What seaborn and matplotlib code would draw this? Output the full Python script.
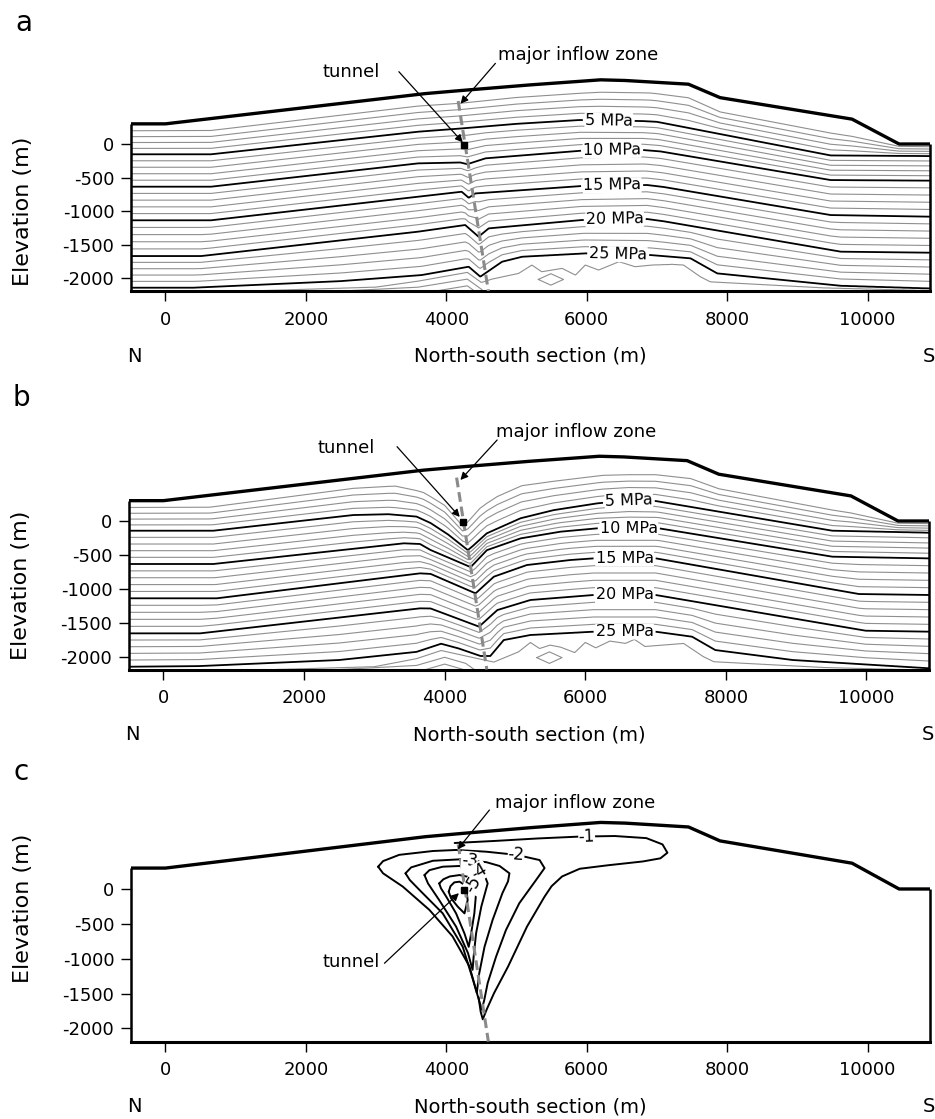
import numpy as np
import matplotlib
matplotlib.use("Agg")
import matplotlib.pyplot as plt
import seaborn as sns

# ---------------------------------------------------------------- data
X_TICKS = [0, 2000, 4000, 6000, 8000, 10000]
Y_TICKS = [0, -500, -1000, -1500, -2000]
X_RANGE = [-490, 10890]
Z_RANGE = [-2190, 1000]

# ground surface (model top)
TOPO_X = [-490, 0, 3700, 4200, 5200, 6200, 6550, 7450, 7900, 9780, 10450, 10890]
TOPO_Z = [300, 300, 750, 795, 880, 955, 945, 890, 690, 370, 0, 0]

INFLOW_X = [4170, 4600]
INFLOW_Z = [640, -2190]
TUNNEL_X = [4255]
TUNNEL_Z = [-20]
DIAMOND_X = [5310, 5490, 5670, 5490, 5310]
DIAMOND_Z = [-2015, -1930, -2015, -2100, -2015]

# ---- panel a: pressure contours (MPa) before tunnel, elevation (m) along x (m)
A_P0_X = [-490, 650, 3600, 4200, 5000, 6200, 6900, 7450, 7900, 9780, 10450, 10890]
A_P0_Z = [285, 290, 660, 700, 790, 875, 865, 800, 560, 185, 0, -5]
A_P5_X = [-490, 650, 3600, 4220, 5000, 5900, 6800, 7000, 9475, 10890]
A_P5_Z = [-153, -153, 183, 232, 300, 357, 341, 330, -170, -179]
A_P10_X = [-490, 650, 3600, 4200, 4300, 4560, 5930, 6800, 7050, 9475, 10890]
A_P10_Z = [-635, -635, -288, -275, -300, -213, -99, -89, -110, -536, -545]
A_P15_X = [-490, 650, 3600, 4220, 4320, 4415, 5930, 6860, 7100, 9475, 10890]
A_P15_Z = [-1135, -1135, -784, -710, -800, -735, -625, -610, -640, -1057, -1081]
A_P20_X = [-490, 510, 3600, 4270, 4460, 4605, 5930, 6860, 7100, 9620, 10890]
A_P20_Z = [-1667, -1667, -1304, -1205, -1379, -1255, -1131, -1116, -1150, -1602, -1617]
A_P25_X = [-490, 400, 2500, 3650, 4320, 4485, 4795, 5080, 5980, 6910, 7480, 7860, 9620, 10890]
A_P25_Z = [-2138, -2138, -2040, -1950, -1826, -1974, -1751, -1677, -1627, -1652, -1701, -1925, -2110, -2150]
A_P26_X = [-490, 3000, 3600, 4300, 4500, 4650, 5030, 5220, 5360, 5650, 5840, 5980, 6170,
           6460, 6690, 6930, 7220, 7380, 7620, 7760, 9380, 10890]
A_P26_Z = [-2240, -2130, -2040, -1910, -2060, -2010, -1925, -1800, -1900, -1850, -1950, -1800, -1875,
           -1750, -1825, -1800, -1790, -1800, -1975, -2050, -2140, -2180]
A_P27_X = [-490, 3600, 4300, 4500, 4700, 10890]
A_P27_Z = [-2340, -2130, -2010, -2160, -2400, -2400]

# ---- panel b: pressure contours (MPa) with tunnel drainage
B_P0_X = [-490, 650, 2700, 3300, 3700, 4000, 4255, 4500, 4750, 5100, 6260, 7000, 7500, 7900, 9780, 10450, 10890]
B_P0_Z = [285, 290, 580, 620, 520, 330, 0, 300, 480, 640, 775, 780, 730, 560, 185, 0, -5]
B_P5_X = [-490, 710, 2700, 3200, 3600, 3800, 4050, 4330, 4400, 4600, 5080, 5550, 6170, 6620, 7000, 9515, 10890]
B_P5_Z = [-143, -143, 88, 100, 65, -30, -200, -430, -370, -182, 40, 160, 260, 305, 295, -143, -172]
B_P10_X = [-490, 710, 3420, 3650, 3800, 4370, 4600, 5080, 5650, 6170, 7050, 9515, 10890]
B_P10_Z = [-634, -634, -329, -339, -428, -680, -430, -256, -157, -108, -108, -526, -551]
B_P15_X = [-490, 760, 3650, 3800, 4440, 4700, 5170, 5790, 6120, 7000, 9895, 10890]
B_P15_Z = [-1140, -1140, -772, -780, -1067, -821, -649, -575, -551, -550, -1077, -1091]
B_P20_X = [-490, 520, 3650, 3800, 4490, 4750, 5220, 6120, 7000, 9990, 10890]
B_P20_Z = [-1657, -1657, -1288, -1290, -1558, -1313, -1165, -1091, -1091, -1618, -1632]
B_P25_X = [-490, 500, 2500, 3600, 3950, 4200, 4510, 4650, 4840, 5220, 6120, 7000, 7520, 7850, 8950, 10890]
B_P25_Z = [-2149, -2140, -2050, -1930, -1810, -1880, -1991, -1991, -1755, -1681, -1632, -1632, -1706, -1903, -2050, -2173]
B_P26_X = [-490, 3000, 3600, 3950, 4300, 4700, 5050, 5220, 5350, 5500, 5650, 5850, 6000, 6150,
           6350, 6573, 6700, 6850, 7400, 7680, 7830, 9400, 10890]
B_P26_Z = [-2250, -2150, -2030, -1910, -1990, -2080, -1930, -1790, -1880, -1830, -1860, -1940, -1790, -1870,
           -1770, -1804, -1745, -1850, -1805, -2000, -2075, -2160, -2200]
B_P27_X = [-490, 3600, 4000, 4300, 4700, 10890]
B_P27_Z = [-2350, -2130, -2010, -2100, -2400, -2400]

BOLD_LEVELS = [5, 10, 15, 20, 25]
THIN_LEVELS = [1, 2, 3, 4, 6, 7, 8, 9, 11, 12, 13, 14, 16, 17, 18, 19,
               21, 22, 23, 24, 26, 27, 28, 29]
M_PER_MPA = 100.0   # spacing used below the deepest read contour

A_LABEL_X = [6315, 6362, 6362, 6400, 6450]
A_LABEL_Z = [367, -100, -610, -1121, -1603]
B_LABEL_X = [6620, 6620, 6560, 6560, 6560]
B_LABEL_Z = [310, -93, -550, -1077, -1608]

# ---- panel c: pressure change contours (MPa)
C_M1_X = [4120, 4700, 5300, 5900, 6400, 6850, 7080, 7150, 7050, 6800, 6300, 5900, 5650, 5500,
          5400, 5150, 4880, 4680, 4580, 4520, 4490, 4460]
C_M1_Z = [660, 690, 725, 752, 760, 730, 640, 520, 440, 395, 340, 290, 180, 40,
          -110, -540, -1114, -1496, -1720, -1870, -1760, -1550]
C_M2_X = [3030, 3100, 3330, 3810, 4140, 4570, 5000, 5330, 5400, 5280, 5040, 4850, 4710, 4590,
          4540, 4505, 4450, 4330, 4090, 3760, 3380, 3100, 3030]
C_M2_Z = [320, 400, 490, 545, 560, 535, 490, 415, 300, 130, -205, -590, -970, -1350,
          -1600, -1730, -1540, -1110, -680, -300, 35, 225, 320]
C_M3_X = [3420, 3500, 3810, 4190, 4570, 4760, 4900, 4880, 4800, 4660, 4545, 4470, 4435, 4380,
          4235, 3950, 3620, 3480, 3420]
C_M3_Z = [225, 310, 405, 425, 385, 330, 225, 110, -60, -445, -830, -1210, -1490, -1300,
          -830, -350, -15, 130, 225]
C_M4_X = [3690, 3760, 3950, 4190, 4450, 4545, 4590, 4500, 4425, 4390, 4375, 4310, 4140, 3900, 3740, 3690]
C_M4_Z = [200, 270, 320, 330, 280, 200, 80, -250, -635, -970, -1160, -920, -540, -160, 80, 200]
C_M5_X = [3900, 3960, 4050, 4190, 4330, 4380, 4425, 4400, 4355, 4320, 4260, 4140, 4000, 3925, 3900]
C_M5_Z = [80, 140, 180, 200, 170, 130, -60, -350, -635, -830, -640, -350, -110, 10, 80]
C_M6_X = [4035, 4060, 4115, 4190, 4260, 4285, 4305, 4260, 4165, 4070, 4035]
C_M6_Z = [-40, 40, 95, 105, 60, 10, -160, -350, -255, -135, -40]
C_LABELS = ["-1", "-2", "-3", "-4", "-5"]
C_LABEL_X = [6000, 4995, 4330, 4470, 4385]
C_LABEL_Z = [752, 490, 410, 255, 60]
C_LABEL_ROT = [2, -4, -5, 30, 60]

# ---------------------------------------------------------------- style
sns.set_theme(style="white")
plt.rcParams["font.family"] = ["DejaVu Sans"]
plt.rcParams["axes.unicode_minus"] = False
for key in ["text.color", "axes.labelcolor", "xtick.color", "ytick.color"]:
    plt.rcParams[key] = "black"

THIN_COLOR = "#8f8f8f"
DASH_COLOR = "#8a8a8a"

fig = plt.figure(figsize=(9.35, 11.19), dpi=100)
W, H = 935.0, 1119.0
ax_a = fig.add_axes([131 / W, 1 - 291.2 / H, 799 / W, 214.4 / H])
ax_b = fig.add_axes([129 / W, 1 - 669.5 / H, 800 / W, 216.3 / H])
ax_c = fig.add_axes([131 / W, 1 - 1041.6 / H, 799 / W, 222.3 / H])

XG = np.linspace(X_RANGE[0], X_RANGE[1], 1500)
ZG = np.linspace(Z_RANGE[0], Z_RANGE[1], 800)


def pressure_field(levels):
    plev = np.array([p for p, _, _ in levels], float)
    field = np.empty((ZG.size, XG.size))
    for j, x in enumerate(XG):
        zl = np.array([np.interp(x, lx, lz) for _, lx, lz in levels], float)
        for k in range(1, zl.size):
            zl[k] = min(zl[k], zl[k - 1] - 1.0)
        zz = np.concatenate([[zl[0] + 3000.0], zl, [zl[-1] - 3000.0]])
        pp = np.concatenate([[plev[0] - 3000.0 / M_PER_MPA], plev, [plev[-1] + 3000.0 / M_PER_MPA]])
        field[:, j] = np.interp(ZG, zz[::-1], pp[::-1])
    topo = np.interp(XG, TOPO_X, TOPO_Z)
    field[ZG[:, None] > topo[None, :] + 2] = np.nan
    return np.ma.masked_invalid(field)


def frame(ax, elev_z):
    ax.set_xlim(X_RANGE)
    ax.set_ylim(Z_RANGE)
    for s in ["top", "right", "left"]:
        ax.spines[s].set_visible(False)
    ax.spines["bottom"].set_color("black")
    ax.spines["bottom"].set_linewidth(2.2)
    ax.set_xticks(X_TICKS)
    ax.set_xticklabels([str(v) for v in X_TICKS])
    ax.set_yticks(Y_TICKS)
    ax.set_yticklabels([str(v) for v in Y_TICKS])
    ax.tick_params(axis="both", which="major", length=7, width=1.0, color="black",
                   labelcolor="black", labelsize=13, direction="out", left=True, bottom=True)
    ax.tick_params(axis="x", pad=7)
    ax.tick_params(axis="y", pad=5)
    ax.set_xlabel("")
    ax.set_ylabel("")
    ax.grid(False)
    # model outline
    sns.lineplot(x=TOPO_X, y=TOPO_Z, sort=False, estimator=None, color="black",
                 linewidth=2.4, ax=ax, zorder=6, legend=False)
    ax.plot([TOPO_X[0], TOPO_X[0]], [Z_RANGE[0], TOPO_Z[0]], color="black", lw=1.8,
            clip_on=False, zorder=6, solid_capstyle="butt")
    ax.plot([TOPO_X[-1], TOPO_X[-1]], [Z_RANGE[0], TOPO_Z[-1]], color="black", lw=1.8,
            clip_on=False, zorder=6, solid_capstyle="butt")
    # inflow zone
    ax.plot(INFLOW_X, INFLOW_Z, color=DASH_COLOR, lw=2.2, dashes=(3.2, 1.6), zorder=5)
    # texts under the axis
    ax.annotate("North-south section (m)", xy=(0.5, 0), xycoords="axes fraction",
                xytext=(0, -47), textcoords="offset points", ha="center", va="center", fontsize=14)
    ax.annotate("N", xy=(0.004, 0), xycoords="axes fraction",
                xytext=(0, -47), textcoords="offset points", ha="center", va="center", fontsize=14)
    ax.annotate("S", xy=(0.9985, 0), xycoords="axes fraction",
                xytext=(0, -47), textcoords="offset points", ha="center", va="center", fontsize=14)
    ax.annotate("Elevation (m)", xy=(0, elev_z), xycoords=("axes fraction", "data"),
                xytext=(-78, 0), textcoords="offset points", ha="center", va="center",
                rotation=90, fontsize=16)


def arrow_label(ax, text, text_xy, tail, head):
    ax.text(text_xy[0], text_xy[1], text, ha="center", va="center", fontsize=13, zorder=8)
    ax.annotate("", xy=head, xytext=tail, annotation_clip=False,
                arrowprops=dict(arrowstyle="-|>", color="black", lw=0.9,
                                mutation_scale=11, shrinkA=0, shrinkB=0), zorder=8)


def pressure_panel(ax, levels, lab_x, lab_z, elev_z):
    frame(ax, elev_z)
    field = pressure_field(levels)
    ax.contour(XG, ZG, field, levels=THIN_LEVELS, colors=THIN_COLOR, linewidths=0.8, zorder=2)
    cs = ax.contour(XG, ZG, field, levels=BOLD_LEVELS, colors="black", linewidths=1.3, zorder=3)
    texts = ax.clabel(cs, fmt=lambda v: f"{v:.0f} MPa", manual=list(zip(lab_x, lab_z)),
                      inline=True, inline_spacing=2, fontsize=11.5)
    for t in texts:
        t.set_bbox(dict(facecolor="white", edgecolor="none", pad=0.2))
        t.set_color("black")
        t.set_zorder(4)
    sns.lineplot(x=DIAMOND_X, y=DIAMOND_Z, sort=False, estimator=None, color=THIN_COLOR,
                 linewidth=0.8, ax=ax, legend=False, zorder=2)
    ax.plot(TUNNEL_X, TUNNEL_Z, marker="s", ms=5, color="black", ls="none", zorder=9)


LEVELS_A = [(0, A_P0_X, A_P0_Z), (5, A_P5_X, A_P5_Z), (10, A_P10_X, A_P10_Z),
            (15, A_P15_X, A_P15_Z), (20, A_P20_X, A_P20_Z), (25, A_P25_X, A_P25_Z),
            (26, A_P26_X, A_P26_Z), (27, A_P27_X, A_P27_Z)]
LEVELS_B = [(0, B_P0_X, B_P0_Z), (5, B_P5_X, B_P5_Z), (10, B_P10_X, B_P10_Z),
            (15, B_P15_X, B_P15_Z), (20, B_P20_X, B_P20_Z), (25, B_P25_X, B_P25_Z),
            (26, B_P26_X, B_P26_Z), (27, B_P27_X, B_P27_Z)]

# ---- panel a
pressure_panel(ax_a, LEVELS_A, A_LABEL_X, A_LABEL_Z, -1000)
arrow_label(ax_a, "major inflow zone", (5877, 1324), (4700, 1200), (4204, 600))
arrow_label(ax_a, "tunnel", (2640, 1071), (3325, 1076), (4235, 25))

# ---- panel b
pressure_panel(ax_b, LEVELS_B, B_LABEL_X, B_LABEL_Z, -950)
arrow_label(ax_b, "major inflow zone", (5876, 1313), (4747, 1195), (4224, 605))
arrow_label(ax_b, "tunnel", (2601, 1077), (3323, 1096), (4215, 60))

# ---- panel c
frame(ax_c, -280)
for cx, cz in [(C_M1_X, C_M1_Z), (C_M2_X, C_M2_Z), (C_M3_X, C_M3_Z),
               (C_M4_X, C_M4_Z), (C_M5_X, C_M5_Z), (C_M6_X, C_M6_Z)]:
    sns.lineplot(x=cx, y=cz, sort=False, estimator=None, color="black", linewidth=1.4,
                 ax=ax_c, legend=False, zorder=3)
for lab, lx, lz, rot in zip(C_LABELS, C_LABEL_X, C_LABEL_Z, C_LABEL_ROT):
    ax_c.text(lx, lz, lab, ha="center", va="center", fontsize=12, rotation=rot, zorder=7,
              bbox=dict(facecolor="white", edgecolor="none", pad=0.1))
ax_c.plot(TUNNEL_X, TUNNEL_Z, marker="s", ms=4, color="black", ls="none", zorder=9)
arrow_label(ax_c, "major inflow zone", (5840, 1234), (4615, 1133), (4164, 570))
arrow_label(ax_c, "tunnel", (2650, -1047), (3120, -1066), (4180, -60))

# panel letters
fig.text(24 / W, 1 - 23 / H, "a", ha="center", va="center", fontsize=20)
fig.text(21 / W, 1 - 398 / H, "b", ha="center", va="center", fontsize=20)
fig.text(21 / W, 1 - 772 / H, "c", ha="center", va="center", fontsize=20)

fig.savefig("out.png", dpi=100)
